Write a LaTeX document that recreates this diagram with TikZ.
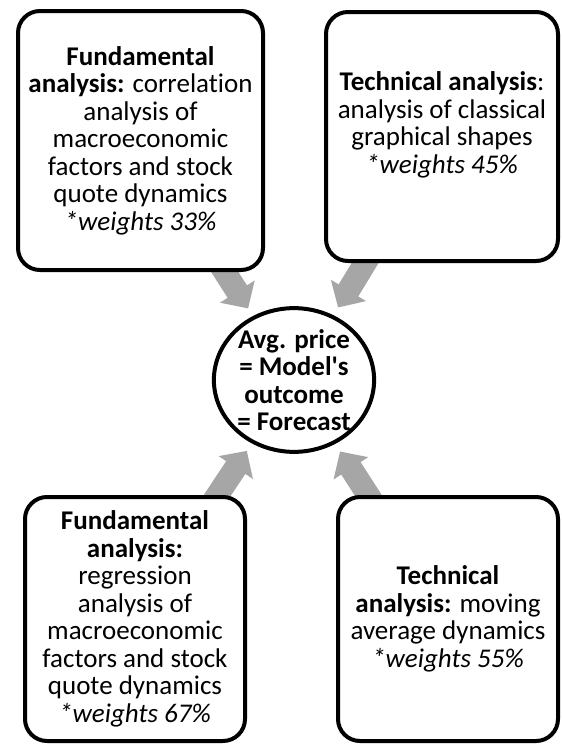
\documentclass[tikz,border=0pt]{standalone}
\usepackage{fontspec}
\setmainfont{Carlito}[Ligatures=NoCommon]
\usepackage{tikz}
\usetikzlibrary{arrows.meta,shapes.geometric,backgrounds}
\definecolor{arrgray}{HTML}{A6A6A6}

\begin{document}
\begin{tikzpicture}[x=1pt,y=-1pt,
                    font=\fontsize{27}{27.5}\selectfont,
                    box/.style={draw, line width=4pt, rounded corners=22pt, fill=white,
                                align=center, inner sep=0pt},
                    fat/.style={draw=arrgray, line width=23pt,
                                -{Triangle[length=20pt, width=40pt]}, shorten >=9pt}]
  \useasboundingbox (0,0) rectangle (562,745);

  \node[box, minimum width=245pt, minimum height=259pt] (fundA) at (140.5,140.5)
    {\textbf{Fundamental}\\ \textbf{analysis:} correlation\\ analysis of\\ macroeconomic\\
     factors and stock\\ quote dynamics\\ \textit{*weights 33\%}};
  % text sits a little above the middle
  \node[box, minimum width=232pt, minimum height=249pt] (techA) at (442,136.5)
    {\textbf{Technical analysis}:\\ analysis of classical\\ graphical shapes\\
     \textit{*weights 45\%}\\ \mbox{}};
  \node[box, minimum width=220pt, minimum height=244pt] (fundB) at (135,619)
    {\textbf{Fundamental}\\ \textbf{analysis:}\\ regression\\ analysis of\\ macroeconomic\\
     factors and stock\\ quote dynamics\\ \textit{*weights 67\%}};
  \node[box, minimum width=220pt, minimum height=244pt] (techB) at (448,619)
    {\textbf{Technical}\\ \textbf{analysis:} moving\\ average dynamics\\
     \textit{*weights 55\%}};
  \node[draw, ellipse, line width=4pt, fill=white, inner sep=0pt, align=center,
        minimum width=158pt, minimum height=142pt, font=\fontsize{27}{27.5}\selectfont\bfseries]
    (avg) at (294,380) {Avg. price\\ = Model\textquotesingle s\\ outcome\\ = Forecast};

  \begin{pgfonlayer}{background}
    \draw[fat] (fundA.center) -- (avg);
    \draw[fat] (techA.center) -- (avg);
    \draw[fat] (fundB.center) -- (avg);
    \draw[fat] (techB.center) -- (avg);
  \end{pgfonlayer}
\end{tikzpicture}
\end{document}
